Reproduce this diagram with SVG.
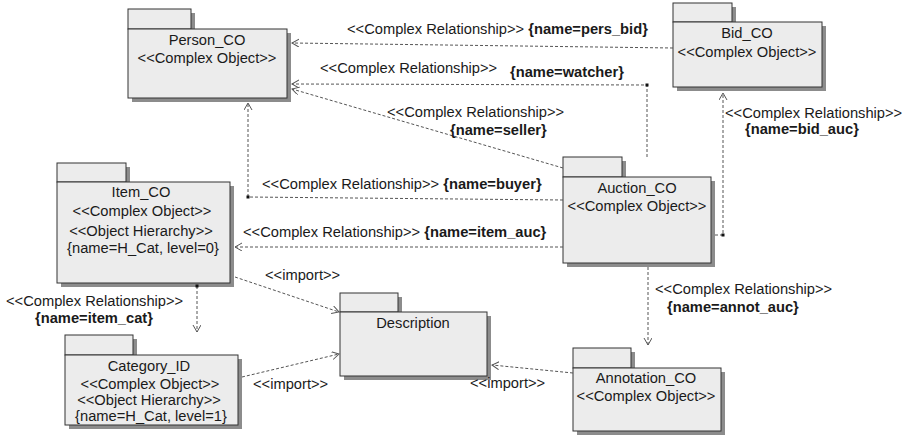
<svg xmlns="http://www.w3.org/2000/svg" width="909" height="443" viewBox="0 0 909 443">
  <style>
    .shadow { fill: #8c8c8c; }
    .pkg { fill: #ececec; stroke: #333; stroke-width: 1; }
    .name { font-family: "Liberation Sans", Arial, sans-serif; font-size: 14.7px; fill: #1a1a1a; text-anchor: middle; }
    .lbl { font-family: "Liberation Sans", Arial, sans-serif; font-size: 14.7px; fill: #1a1a1a; }
    .b { font-weight: bold; }
    .dep { fill: none; stroke: #555; stroke-width: 1; stroke-dasharray: 3 2; }
    .dot { fill: #111; }
  </style>
  <defs>
    <marker id="open" markerUnits="userSpaceOnUse" markerWidth="10" markerHeight="10" refX="7" refY="4" orient="auto">
      <path d="M0,0 L7,4 L0,8" fill="none" stroke="#555" stroke-width="1"/>
    </marker>
  </defs>

  <rect width="909" height="443" fill="#ffffff"/>

  <!-- packages -->
  <g id="person_co">
    <rect class="shadow" x="132" y="13" width="63" height="20"/>
    <rect class="shadow" x="132" y="33" width="159" height="69"/>
    <rect class="pkg" x="128" y="9" width="63" height="20"/>
    <rect class="pkg" x="128" y="29" width="159" height="69"/>
    <text class="name" x="207" y="45">Person_CO</text>
    <text class="name" x="207" y="63">&lt;&lt;Complex Object&gt;&gt;</text>
  </g>

  <g id="bid_co">
    <rect class="shadow" x="677" y="7" width="59" height="19"/>
    <rect class="shadow" x="677" y="26" width="149" height="65"/>
    <rect class="pkg" x="673" y="3" width="59" height="19"/>
    <rect class="pkg" x="673" y="22" width="149" height="65"/>
    <text class="name" x="747" y="38">Bid_CO</text>
    <text class="name" x="747" y="57">&lt;&lt;Complex Object&gt;&gt;</text>
  </g>

  <g id="auction_co">
    <rect class="shadow" x="567" y="161" width="59" height="20"/>
    <rect class="shadow" x="567" y="181" width="148" height="86"/>
    <rect class="pkg" x="563" y="157" width="59" height="20"/>
    <rect class="pkg" x="563" y="177" width="148" height="86"/>
    <text class="name" x="637" y="193">Auction_CO</text>
    <text class="name" x="637" y="211">&lt;&lt;Complex Object&gt;&gt;</text>
  </g>

  <g id="item_co">
    <rect class="shadow" x="61" y="167" width="69" height="19"/>
    <rect class="shadow" x="61" y="186" width="173" height="101"/>
    <rect class="pkg" x="57" y="163" width="69" height="19"/>
    <rect class="pkg" x="57" y="182" width="173" height="101"/>
    <text class="name" x="141" y="197">Item_CO</text>
    <text class="name" x="142" y="216">&lt;&lt;Complex Object&gt;&gt;</text>
    <text class="name" x="141" y="236">&lt;&lt;Object Hierarchy&gt;&gt;</text>
    <text class="name" x="143" y="253">{name=H_Cat, level=0}</text>
  </g>

  <g id="category_id">
    <rect class="shadow" x="69" y="339" width="68" height="20"/>
    <rect class="shadow" x="69" y="359" width="173" height="70"/>
    <rect class="pkg" x="65" y="335" width="68" height="20"/>
    <rect class="pkg" x="65" y="355" width="173" height="70"/>
    <text class="name" x="149" y="371">Category_ID</text>
    <text class="name" x="150" y="389">&lt;&lt;Complex Object&gt;&gt;</text>
    <text class="name" x="149" y="405">&lt;&lt;Object Hierarchy&gt;&gt;</text>
    <text class="name" x="151" y="421">{name=H_Cat, level=1}</text>
  </g>

  <g id="description">
    <rect class="shadow" x="344" y="297" width="58" height="19"/>
    <rect class="shadow" x="344" y="316" width="147" height="64"/>
    <rect class="pkg" x="340" y="293" width="58" height="19"/>
    <rect class="pkg" x="340" y="312" width="147" height="64"/>
    <text class="name" x="413" y="328">Description</text>
  </g>

  <g id="annotation_co">
    <rect class="shadow" x="577" y="352" width="58" height="20"/>
    <rect class="shadow" x="577" y="372" width="148" height="63"/>
    <rect class="pkg" x="573" y="348" width="58" height="20"/>
    <rect class="pkg" x="573" y="368" width="148" height="63"/>
    <text class="name" x="646" y="383">Annotation_CO</text>
    <text class="name" x="646" y="401">&lt;&lt;Complex Object&gt;&gt;</text>
  </g>

  <!-- dependencies -->
  <g id="connectors">
    <path class="dep" d="M673,48 L292,43" marker-end="url(#open)"/>
    <path class="dep" d="M647,157 L647,85 L292,84" marker-end="url(#open)"/>
    <path class="dep" d="M563,168 L292,89" marker-end="url(#open)"/>
    <path class="dep" d="M563,200 L248,197 L248,103" marker-end="url(#open)"/>
    <path class="dep" d="M563,247 L235,247" marker-end="url(#open)"/>
    <path class="dep" d="M715,235 L723,235 L723,93" marker-end="url(#open)"/>
    <path class="dep" d="M648,267 L648,345" marker-end="url(#open)"/>
    <path class="dep" d="M197,286 L197,332" marker-end="url(#open)"/>
    <path class="dep" d="M235,277 L339,312" marker-end="url(#open)"/>
    <path class="dep" d="M242,377 L339,354" marker-end="url(#open)"/>
    <path class="dep" d="M573,373 L492,365" marker-end="url(#open)"/>
    <rect class="dot" x="645.5" y="83.5" width="3" height="3"/>
    <rect class="dot" x="246.5" y="195.5" width="3" height="3"/>
    <rect class="dot" x="721.5" y="233.5" width="3" height="3"/>
    <rect class="dot" x="195.5" y="284.5" width="3" height="3"/>
  </g>

  <!-- connector labels -->
  <g id="labels">
    <text class="lbl" x="347" y="34">&lt;&lt;Complex Relationship&gt;&gt; <tspan class="b">{name=pers_bid}</tspan></text>
    <text class="lbl" x="320" y="73">&lt;&lt;Complex Relationship&gt;&gt;</text>
    <text class="lbl b" x="510" y="77">{name=watcher}</text>
    <text class="lbl" x="387" y="117">&lt;&lt;Complex Relationship&gt;&gt;</text>
    <text class="lbl b" x="450" y="135">{name=seller}</text>
    <text class="lbl" x="262" y="189">&lt;&lt;Complex Relationship&gt;&gt; <tspan class="b">{name=buyer}</tspan></text>
    <text class="lbl" x="243" y="237">&lt;&lt;Complex Relationship&gt;&gt; <tspan class="b">{name=item_auc}</tspan></text>
    <text class="lbl" x="725" y="118">&lt;&lt;Complex Relationship&gt;&gt;</text>
    <text class="lbl b" x="745" y="134">{name=bid_auc}</text>
    <text class="lbl" x="655" y="294">&lt;&lt;Complex Relationship&gt;&gt;</text>
    <text class="lbl b" x="667" y="312">{name=annot_auc}</text>
    <text class="lbl" x="6" y="306">&lt;&lt;Complex Relationship&gt;&gt;</text>
    <text class="lbl b" x="35" y="323">{name=item_cat}</text>
    <text class="lbl" x="265" y="280">&lt;&lt;import&gt;&gt;</text>
    <text class="lbl" x="253" y="389">&lt;&lt;import&gt;&gt;</text>
    <text class="lbl" x="470" y="388">&lt;&lt;import&gt;&gt;</text>
  </g>
</svg>
